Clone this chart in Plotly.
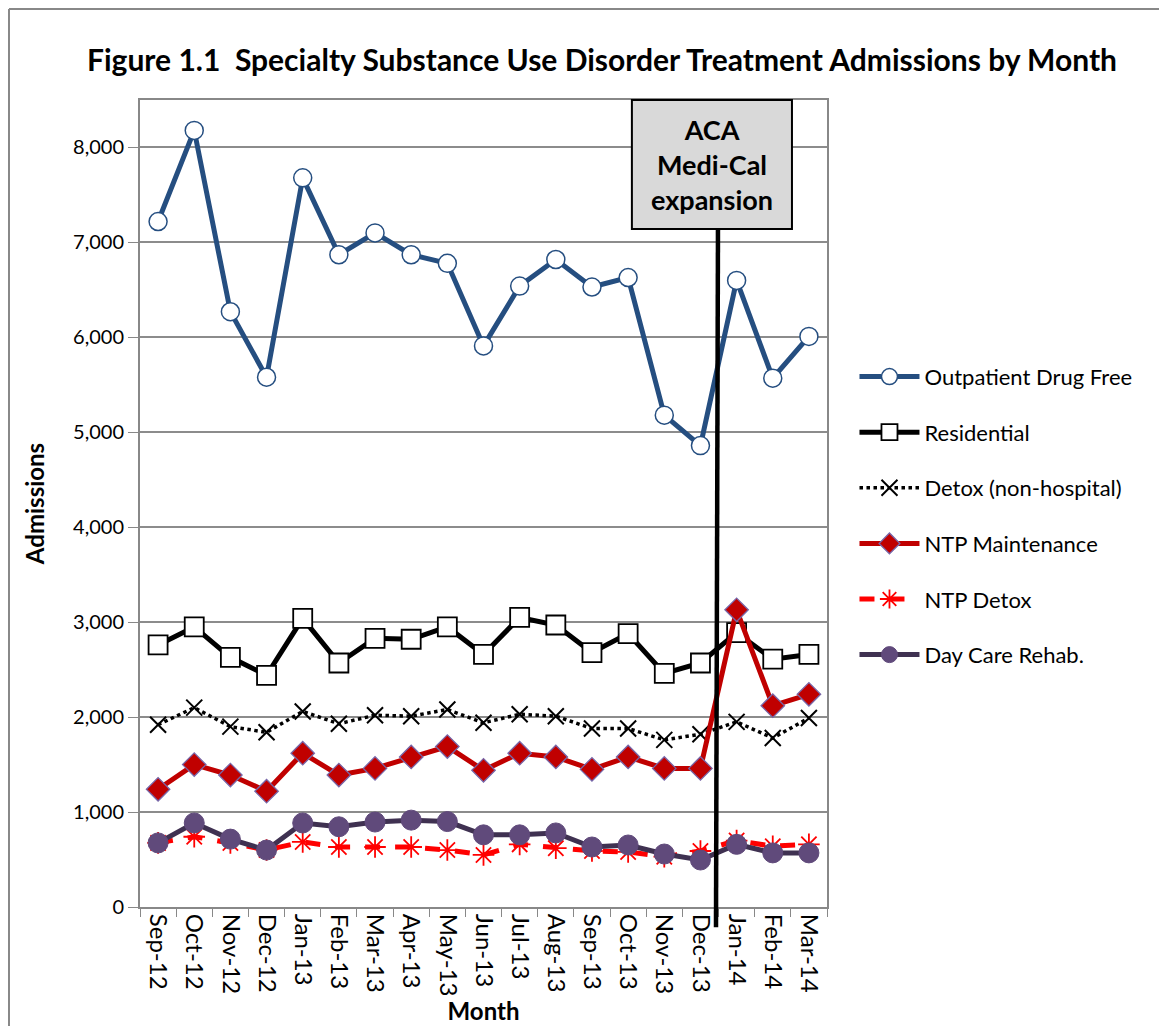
import plotly.graph_objs as go

months = ["Sep-12", "Oct-12", "Nov-12", "Dec-12", "Jan-13", "Feb-13", "Mar-13", "Apr-13",
          "May-13", "Jun-13", "Jul-13", "Aug-13", "Sep-13", "Oct-13", "Nov-13", "Dec-13",
          "Jan-14", "Feb-14", "Mar-14"]

outpatient = [7220, 8180, 6270, 5580, 7680, 6870, 7100, 6870, 6780, 5910,
              6540, 6820, 6530, 6630, 5180, 4860, 6600, 5570, 6010]
residential = [2760, 2950, 2630, 2440, 3040, 2570, 2830, 2820, 2950, 2660,
               3050, 2970, 2680, 2880, 2460, 2570, 2890, 2610, 2660]
detox = [1920, 2100, 1900, 1840, 2060, 1930, 2020, 2010, 2080, 1940,
         2030, 2010, 1880, 1880, 1760, 1820, 1950, 1780, 1990]
ntp_maint = [1240, 1500, 1390, 1220, 1620, 1390, 1460, 1580, 1690, 1440,
             1620, 1580, 1450, 1580, 1460, 1460, 3130, 2120, 2240]
ntp_detox = [675, 740, 675, 600, 685, 632, 632, 632, 600, 548,
             660, 620, 590, 580, 530, 590, 700, 640, 660]
day_care = [675, 885, 715, 600, 885, 845, 895, 915, 900, 760,
            760, 780, 632, 653, 558, 495, 660, 570, 570]

y_ticks = [0, 1000, 2000, 3000, 4000, 5000, 6000, 7000, 8000]

FONT = "Lato"

# page body has an 8px margin, so the figure is a bit smaller than the window
W, H = 1151, 1018

fig = go.Figure()

series = [
    ("Outpatient Drug Free", outpatient,
     dict(color="#254E80", width=5, dash="solid"),
     dict(symbol="circle", size=18, color="white", line=dict(color="#254E80", width=1.5))),
    ("Residential", residential,
     dict(color="black", width=5, dash="solid"),
     dict(symbol="square", size=19, color="white", line=dict(color="black", width=1.8))),
    ("Detox (non-hospital)", detox,
     dict(color="black", width=3.5, dash="dot"),
     dict(symbol="x-thin", size=16, color="black", line=dict(color="black", width=2))),
    ("NTP Maintenance", ntp_maint,
     dict(color="#C00000", width=5, dash="solid"),
     dict(symbol="diamond", size=18, color="#C00000", line=dict(color="#7766A8", width=1.3))),
    ("NTP Detox", ntp_detox,
     dict(color="#FF0000", width=5, dash="dash"),
     dict(symbol="asterisk-open", size=18, color="#FF0000", line=dict(color="#FF0000", width=1.8))),
    ("Day Care Rehab.", day_care,
     dict(color="#3F3151", width=5, dash="solid"),
     dict(symbol="circle", size=20, color="#604A7B", line=dict(color="#604A7B", width=1))),
]

for i, (name, vals, ln, mk) in enumerate(series):
    fig.add_trace(go.Scatter(x=months, y=vals, name=name, mode="lines+markers",
                             line=ln, marker=mk, legendgroup="g%d" % i))

# Medi-Cal expansion marker box and line
fig.add_shape(type="line", xref="paper", yref="paper", x0=0.8413, x1=0.8384, y0=0.840, y1=-0.025,
              line=dict(color="black", width=4.5))
fig.add_shape(type="rect", xref="paper", yref="paper", x0=0.716, x1=0.949, y0=0.840, y1=1.0,
              fillcolor="#D9D9D9", line=dict(color="black", width=2))
fig.add_annotation(xref="paper", yref="paper", x=0.8325, y=0.920, xanchor="center", yanchor="middle",
                   showarrow=False, text="<b>ACA<br>Medi-Cal<br>expansion</b>",
                   font=dict(family=FONT, size=27, color="black"))

# outer frame (left and top edges)
fig.add_shape(type="line", xref="paper", yref="paper", x0=-0.1907, x1=-0.1907, y0=1.1128, y1=-0.2,
              line=dict(color="#888888", width=2))
fig.add_shape(type="line", xref="paper", yref="paper", x0=-0.1907, x1=1.6, y0=1.1128, y1=1.1128,
              line=dict(color="#888888", width=2))

fig.update_layout(
    width=W, height=H,
    margin=dict(l=132, r=W + 8 - 827, t=92, b=H + 8 - 907),
    plot_bgcolor="white", paper_bgcolor="white",
    font=dict(family=FONT, size=18, color="black"),
    title=dict(text="<b>Figure 1.1  Specialty Substance Use Disorder Treatment Admissions by Month</b>",
               x=594 / W, xref="container", xanchor="center", y=1 - 52 / H, yref="container",
               yanchor="middle", font=dict(family=FONT, size=30, color="black")),
    legend=dict(x=1.04, xanchor="left", y=0.683, yanchor="top", tracegroupgap=24,
                itemwidth=60, font=dict(family=FONT, size=22, color="black"),
                bgcolor="rgba(0,0,0,0)"),
)

fig.update_xaxes(type="category", range=[-0.5, 18.5], tickangle=90, tickson="boundaries",
                 ticks="outside", ticklen=8, tickcolor="#888888", showline=True, linecolor="#888888",
                 linewidth=2, mirror=True, showgrid=False, automargin=False,
                 title=dict(text="<b>Month</b>", standoff=6, font=dict(family=FONT, size=24)),
                 tickfont=dict(family=FONT, size=24))
fig.update_yaxes(range=[0, 8500], tickvals=y_ticks, tickformat=",d", ticks="outside", ticklen=10,
                 tickcolor="#888888", showline=True, linecolor="#888888", linewidth=2, mirror=True,
                 showgrid=True, gridcolor="#8C8C8C", gridwidth=1.5, zeroline=False, automargin=False,
                 title=dict(text="<b>Admissions</b>", standoff=22, font=dict(family=FONT, size=24)),
                 tickfont=dict(family=FONT, size=20))

fig.write_html("out.html")
